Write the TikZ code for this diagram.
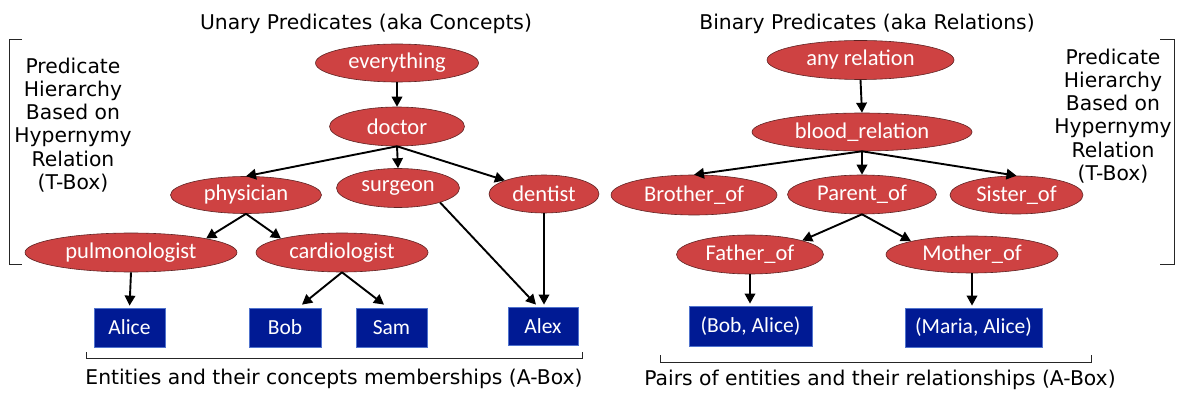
\documentclass[tikz,border=0pt]{standalone}
\usepackage{fontspec}
\setmainfont{DejaVu Sans}
\newfontfamily\calfont{Carlito}
\usetikzlibrary{shapes.geometric,arrows.meta}
\definecolor{ellred}{RGB}{206,66,66}
\definecolor{ellborder}{RGB}{95,35,35}
\definecolor{entblue}{RGB}{0,26,148}
\definecolor{entborder}{RGB}{80,115,205}
\begin{document}
\begin{tikzpicture}[x=1pt,y=-1pt,
  pred/.style={ellipse,fill=ellred,draw=ellborder,line width=0.6pt,inner sep=0pt,text=white,font=\calfont\fontsize{22.5}{27}\selectfont},
  ent/.style={rectangle,fill=entblue,draw=entborder,line width=0.8pt,inner sep=0pt,text=white,font=\calfont\fontsize{21.5}{26}\selectfont},
  lab/.style={font=\fontsize{20.3}{23.1}\selectfont,align=center,text=black,inner sep=0pt},
  arr/.style={-{Triangle[length=10pt,width=10.5pt]},line width=1.9pt},
  brk/.style={line width=1pt,draw=black!85}]
\useasboundingbox (0,0) rectangle (1194,406);

% titles and labels
\node[lab] (t1) at (366,23.5) {Unary Predicates (aka Concepts)};
\node[lab] (t2) at (867,23.5) {Binary Predicates (aka Relations)};
\node[lab] (lt) at (73,125) {Predicate\\Hierarchy\\Based on\\Hypernymy\\Relation\\(T-Box)};
\node[lab] (rt) at (1113,116) {Predicate\\Hierarchy\\Based on\\Hypernymy\\Relation\\(T-Box)};
\node[lab] (b1) at (334,379) {Entities and their concepts memberships (A-Box)};
\node[lab] (b2) at (880,380) {Pairs of entities and their relationships (A-Box)};

% brackets
\draw[brk] (22,40) -- (9,40) -- (9,264) -- (22,264);
\draw[brk] (1160,40) -- (1174,40) -- (1174,264) -- (1160,264);
\draw[brk] (86,352) -- (86,358) -- (582,358) -- (582,352);
\draw[brk] (660,355) -- (660,362) -- (1091,362) -- (1091,355);

% left hierarchy
\node[pred,minimum width=163pt,minimum height=38pt] (everything) at (397,63) {everything};
\node[pred,minimum width=135pt,minimum height=39pt] (doctor) at (397,126.5) {doctor};
\node[pred,minimum width=151pt,minimum height=37pt] (physician) at (246,195) {physician};
\node[pred,minimum width=123pt,minimum height=39pt] (surgeon) at (398,188) {surgeon};
\node[pred,minimum width=110pt,minimum height=38pt] (dentist) at (544,194) {dentist};
\node[pred,minimum width=212pt,minimum height=39pt] (pulmonologist) at (131,252.5) {pulmonologist};
\node[pred,minimum width=172pt,minimum height=39pt] (cardiologist) at (342,252.5) {cardiologist};

\node[ent,minimum width=71pt,minimum height=39pt] (alice) at (129.5,327.5) {Alice};
\node[ent,minimum width=72pt,minimum height=39pt] (bob) at (285,327.5) {Bob};
\node[ent,minimum width=71pt,minimum height=39pt] (sam) at (391.5,327.5) {Sam};
\node[ent,minimum width=70pt,minimum height=38pt] (alex) at (543,326) {Alex};

% right hierarchy
\node[pred,minimum width=187pt,minimum height=39pt] (anyrel) at (860.5,60) {any relation};
\node[pred,minimum width=220pt,minimum height=38pt] (blood) at (862,132) {blood\_relation};
\node[pred,minimum width=166pt,minimum height=40pt] (brother) at (694,195) {Brother\_of};
\node[pred,minimum width=149pt,minimum height=39pt] (parent) at (862,194.5) {Parent\_of};
\node[pred,minimum width=133pt,minimum height=38pt] (sister) at (1016.5,195) {Sister\_of};
\node[pred,minimum width=147pt,minimum height=39pt] (father) at (750,254.5) {Father\_of};
\node[pred,minimum width=172pt,minimum height=37pt] (mother) at (972,254.5) {Mother\_of};

\node[ent,minimum width=123pt,minimum height=40pt] (bobalice) at (750.5,326) {(Bob, Alice)};
\node[ent,minimum width=137pt,minimum height=39pt] (mariaalice) at (973.5,327.5) {(Maria, Alice)};

% connectors left
\draw[arr] (everything.south) -- (doctor.north);
\draw[arr] (doctor.south) -- (physician.north);
\draw[arr] (doctor.south) -- (surgeon.north);
\draw[arr] (doctor.south) -- (dentist.north west);
\draw[arr] (physician.south) -- (pulmonologist.north east);
\draw[arr] (physician.south) -- (cardiologist.north west);
\draw[arr,shorten >=2pt] (pulmonologist.south) -- (alice.north);
\draw[arr] (cardiologist.south) -- ([xshift=17pt,yshift=3pt]bob.north);
\draw[arr] (cardiologist.south) -- ([xshift=-7.5pt,yshift=3pt]sam.north);
\draw[arr] (surgeon.-19) -- ([xshift=-7pt,yshift=2pt]alex.north);
\draw[arr,shorten >=2pt] (dentist.south) -- (dentist.south |- alex.north);

% connectors right
\draw[arr] (anyrel.south) -- (blood.north);
\draw[arr] (blood.south) -- (brother.north);
\draw[arr] (blood.south) -- (parent.north);
\draw[arr] (blood.south) -- (sister.north);
\draw[arr] (parent.south) -- (father.north east);
\draw[arr] (parent.south) -- (mother.north west);
\draw[arr,shorten >=2pt] (father.south) -- (father.south |- bobalice.north);
\draw[arr,shorten >=2pt] (mother.south) -- (mother.south |- mariaalice.north);
\end{tikzpicture}
\end{document}
